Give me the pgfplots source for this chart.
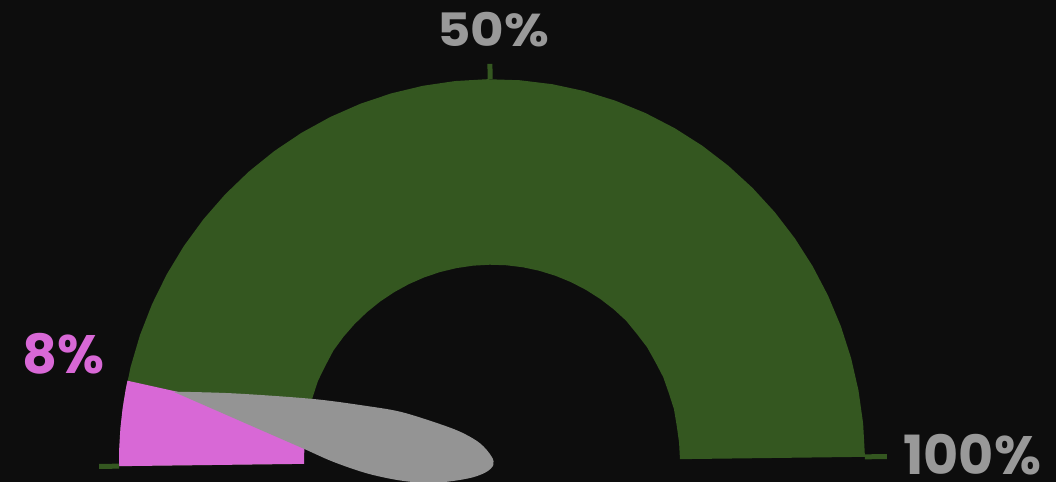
\documentclass[border=0pt]{standalone}
\usepackage{pgfplots}
\pgfplotsset{compat=1.18}
\usepackage{fontspec}
\newfontfamily\lab{Poppins}
\definecolor{bg}{RGB}{13,13,13}
\definecolor{band}{RGB}{52,87,32}
\definecolor{val}{RGB}{216,104,214}
\definecolor{needle}{RGB}{148,148,148}
\definecolor{txt}{RGB}{153,153,153}
\begin{document}
\begin{tikzpicture}
\useasboundingbox (0,0) rectangle (528pt,241pt);
\fill[bg] (0,0) rectangle (528pt,241pt);
\begin{axis}[
  scale only axis, width=528pt, height=241pt,
  xmin=-492, xmax=564, ymin=-20.0, ymax=450.24,
  hide axis, clip=false,
]
% background band (0..100%)
\addplot[fill=band, draw=none, data cs=polar] coordinates {
(0.7,373) (5.7,373) (10.7,373) (15.7,373) (20.7,373) (25.7,373) (30.7,373) (35.7,373) (40.7,373)
(45.7,373) (50.7,373) (55.7,373) (60.7,373) (65.7,373) (70.7,373) (75.7,373) (80.7,373) (85.7,373)
(90.7,373) (95.7,373) (100.7,373) (105.7,373) (110.7,373) (115.7,373) (120.7,373) (125.7,373)
(130.7,373) (135.7,373) (140.7,373) (145.7,373) (150.7,373) (155.7,373) (160.7,373) (165.7,373)
(170.7,373) (175.7,373) (180.7,373)
(180.7,189) (175.7,189) (170.7,189) (165.7,190) (160.7,190) (155.7,191) (150.7,191) (145.7,192)
(140.7,192) (135.7,192) (130.7,192) (125.7,192) (120.7,192) (115.7,192) (110.7,192) (105.7,192)
(100.7,192) (95.7,192) (90.7,192) (85.7,192) (80.7,192) (75.7,192) (70.7,192) (65.7,192) (60.7,192)
(55.7,192) (50.7,192) (45.7,192) (40.7,191) (35.7,191) (30.7,190) (25.7,190) (20.7,189) (15.7,189)
(10.7,188) (5.7,188) (0.7,188)
} -- cycle;
% value 8%
\addplot[fill=val, draw=none, data cs=polar] coordinates {
(180.7,373) (178,373) (175,373) (172,373) (169,373) (167.8,373)
(167.8,188) (169,188) (172,188) (175,188) (178,188) (180.7,188)
} -- cycle;
% needle
\addplot[fill=needle, draw=none, smooth, tension=0.55] coordinates {
(-318.7,68.1) (-259,66.5) (-179,61.0) (-125,54.1) (-92,48.6) (-59,38.8) (-32,29.1)
(-12,17.8) (-0.3,4.7) (1.3,-3.4) (-5.3,-10.0) (-19,-15.4) (-39,-19.0) (-62,-21.0)
(-92,-18.5) (-125.3,-11.5) (-159,-0.2) (-187,11.9) (-222,26.8)
} -- cycle;
% ticks
\addplot[band, line width=2.5pt, data cs=polar] coordinates {(180.7,373) (180.7,393)};
\addplot[band, line width=2.5pt, data cs=polar] coordinates {(90.3,373) (90.3,388)};
\addplot[band, line width=2.5pt, data cs=polar] coordinates {(0.7,373) (0.7,395)};
% labels
\node[anchor=base, text=txt, font=\lab\bfseries\fontsize{23}{23}\selectfont, inner sep=0pt, xscale=1.12] at (axis cs:1,404.4) {50\%};
\node[anchor=base west, text=val, font=\lab\bfseries\fontsize{27}{27}\selectfont, inner sep=0pt] at (axis cs:-470,86.3) {8\%};
\node[anchor=base west, text=txt, font=\lab\bfseries\fontsize{27}{27}\selectfont, inner sep=0pt] at (axis cs:411,-12.5) {100\%};
\end{axis}
\end{tikzpicture}
\end{document}
